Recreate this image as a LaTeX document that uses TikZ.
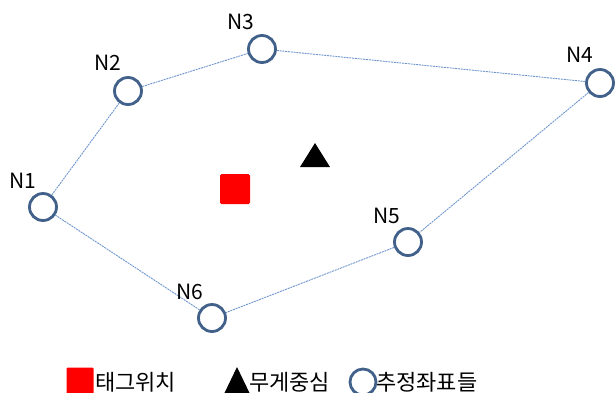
\documentclass[tikz,border=0pt]{standalone}
\usepackage{fontspec}
\setmainfont{Noto Sans CJK KR}
\definecolor{ring}{RGB}{65,96,138}
\definecolor{edge}{RGB}{110,150,205}
\begin{document}
\begin{tikzpicture}[x=1pt,y=-1pt,
  est/.style={circle,draw=ring,line width=2.8pt,fill=white,minimum size=27pt,inner sep=0pt},
  lbl/.style={font=\fontsize{21}{23}\selectfont,inner sep=0pt},
  conn/.style={draw=edge,line width=0.9pt,dash pattern=on 2pt off 0.8pt},
  leg/.style={font=\fontsize{22}{24}\selectfont,inner sep=0pt,anchor=west}]
\useasboundingbox (0,0) rectangle (616,392);
\clip (0,0) rectangle (616,392);
\node[est] (n1) at (43,207) {};
\node[est] (n2) at (128,91) {};
\node[est] (n3) at (262,49) {};
\node[est] (n4) at (600,83) {};
\node[est] (n5) at (408,242) {};
\node[est] (n6) at (212,318) {};
\path[conn] (n1) -- (n2) (n2) -- (n3) (n3) -- (n4) (n4) -- (n5) (n5) -- (n6) (n6) -- (n1);
\node[lbl] (l1) at (23,181) {N1};
\node[lbl] (l2) at (108,63) {N2};
\node[lbl] (l3) at (241,22) {N3};
\node[lbl] (l4) at (580,55) {N4};
\node[lbl] (l5) at (387,216) {N5};
\node[lbl] (l6) at (190,292) {N6};
\node[fill=red,rounded corners=1.5pt,minimum size=30pt,inner sep=0pt] (tag) at (235,189) {};
\fill[black] (300,167) -- (315,143) -- (330,167) -- cycle;
% legend
\node[fill=red,rounded corners=1pt,minimum size=27pt,inner sep=0pt] (ltag) at (80,381) {};
\node[leg] (ttag) at (95,382) {태그위치};
\fill[black] (224,394) -- (237,367) -- (250,394) -- cycle;
\node[leg] (tcen) at (249,382) {무게중심};
\node[circle,draw=ring,line width=2.8pt,minimum size=26pt,inner sep=0pt] (lest) at (363,382) {};
\node[leg] (test) at (376,382) {추정좌표들};
\end{tikzpicture}
\end{document}
